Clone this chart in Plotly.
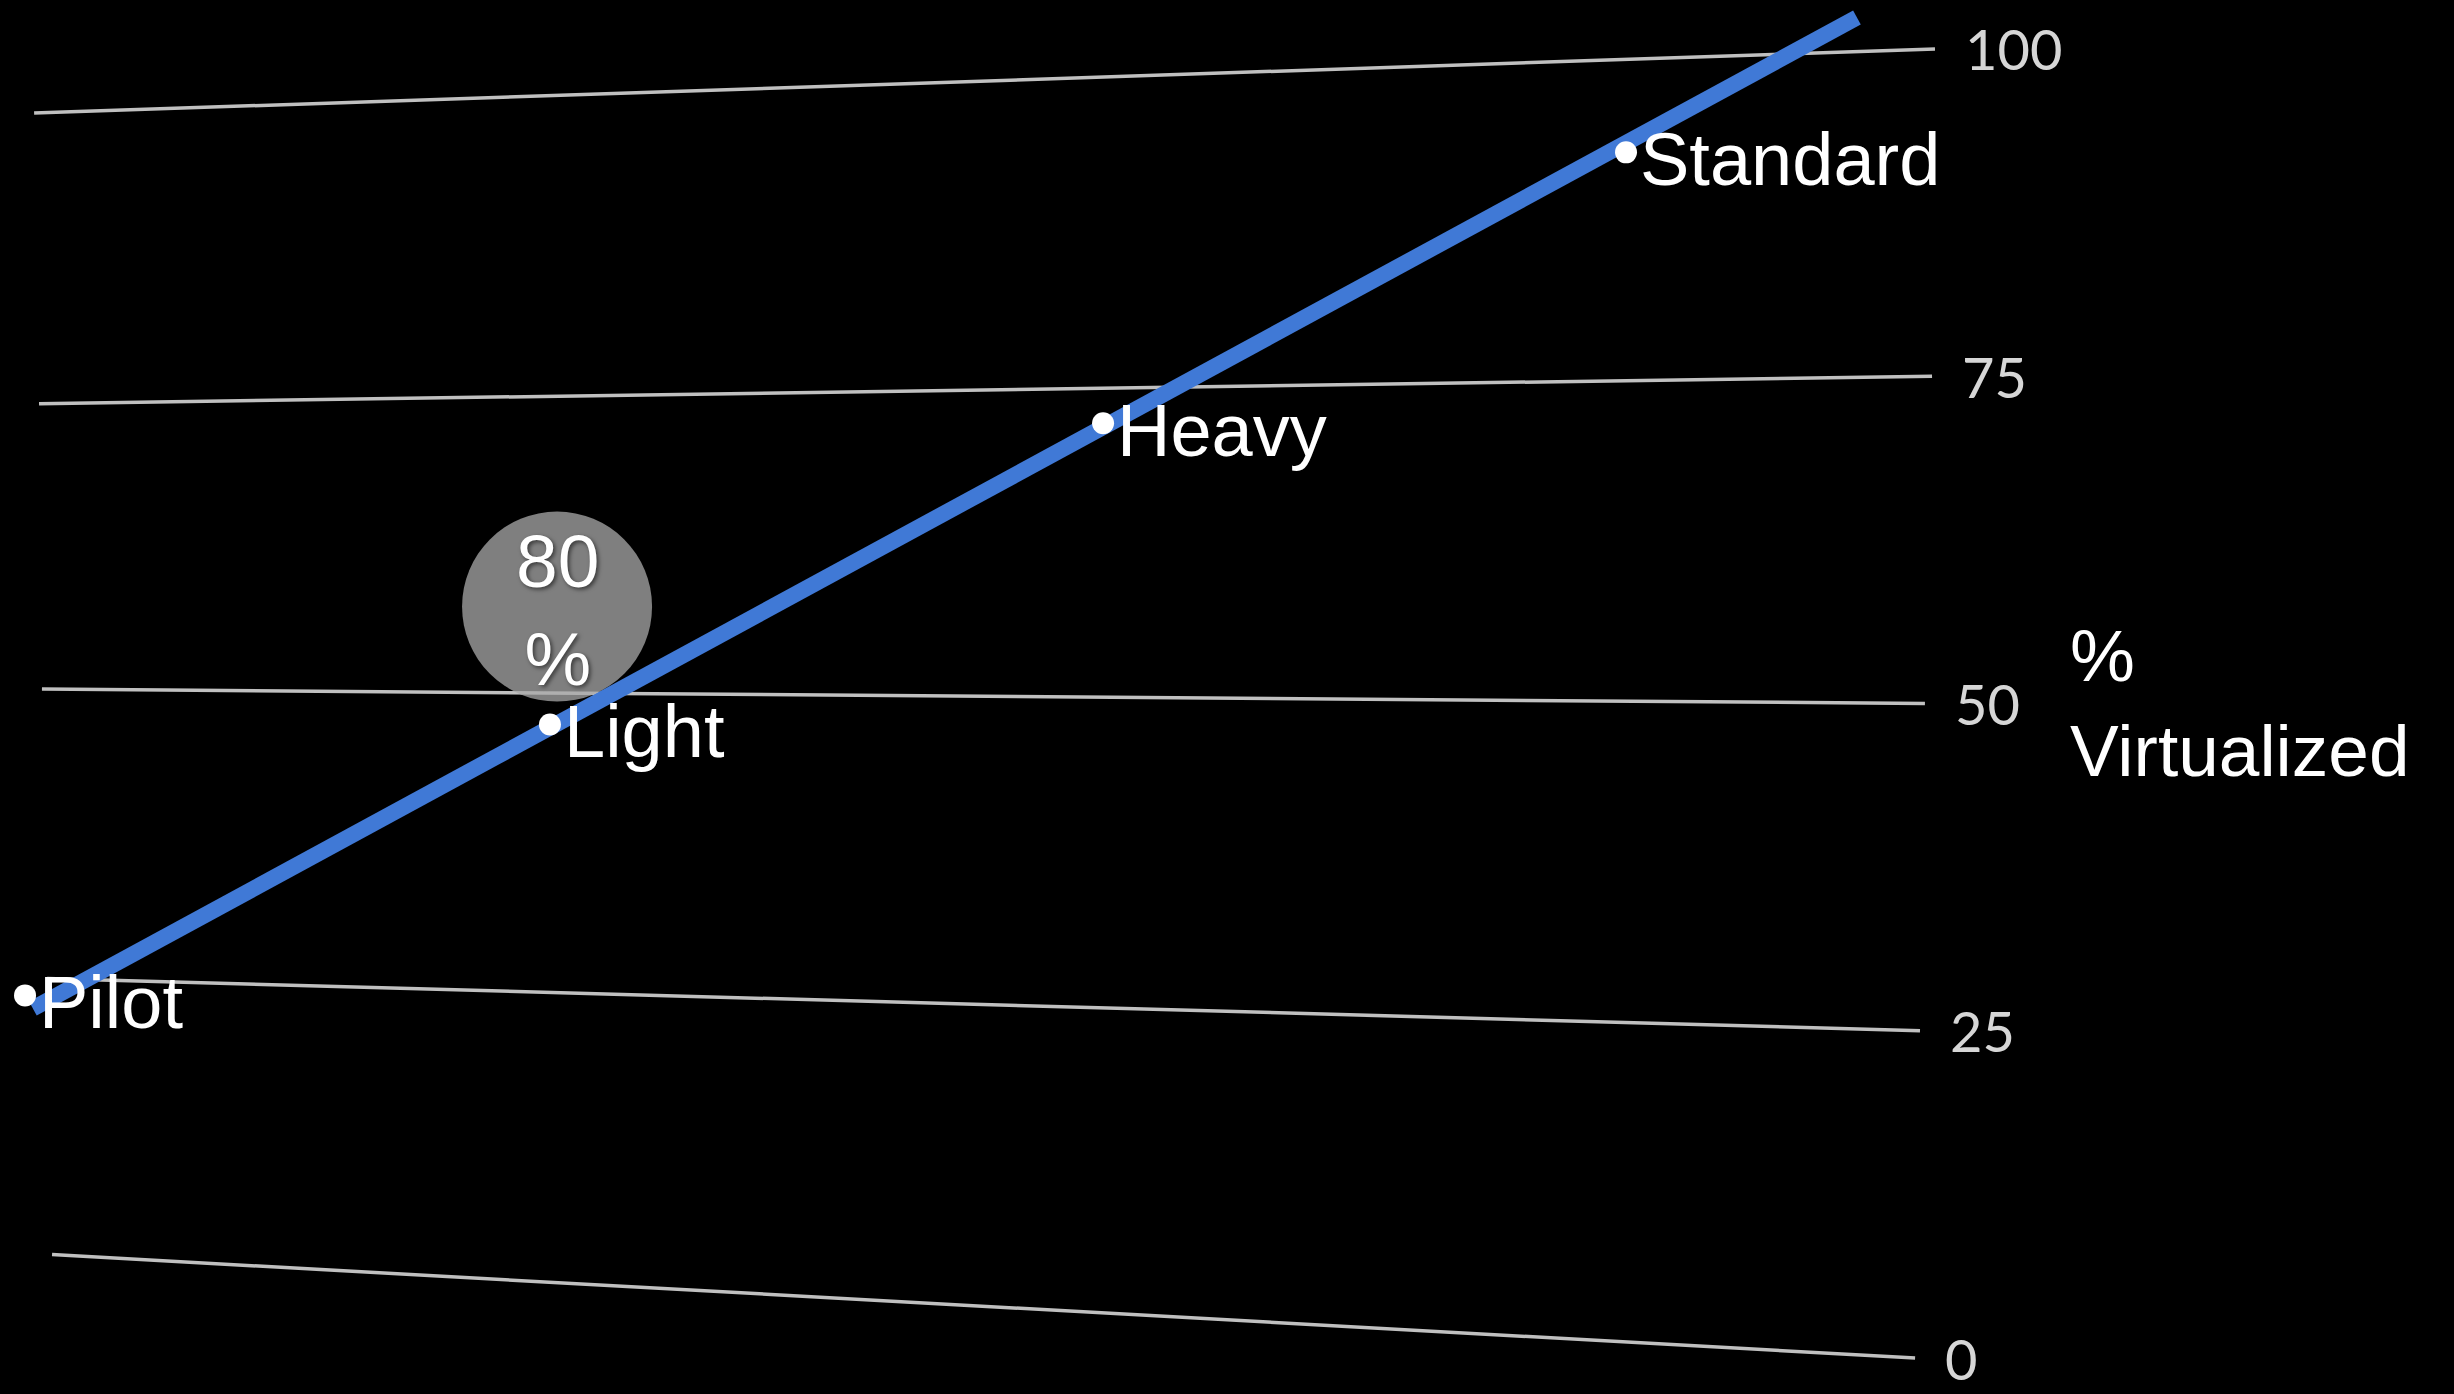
import plotly.graph_objects as go

# ---------------- data ----------------
# perspective gridlines (value at right end, apparent value at left end)
grid_values = [0, 25, 50, 75, 100]
grid_left_y = [7.9, 29.0, 51.1, 72.9, 95.1]
grid_left_x = [2.12, 1.92, 1.71, 1.59, 1.39]
grid_right_x = [78.04, 78.24, 78.44, 78.73, 78.85]
grid_labels = ["0", "25", "50", "75", "100"]

# adoption trend line
trend_x = [1.34, 75.67]
trend_y = [26.7, 102.4]

# stages
stages = ["Pilot", "Light", "Heavy", "Standard"]
stage_x = [1.02, 22.41, 44.95, 66.26]
stage_y = [27.7, 48.4, 71.4, 92.1]

# highlight bubble
highlight_text = "80<br>%"
highlight_x = [22.7]
highlight_y = [57.4]

axis_title = "%<br>Virtualized"
axis_title_x = 84.25
axis_title_y = 50.0

# ---------------- figure ----------------
fig = go.Figure()

for i, v in enumerate(grid_values):
    fig.add_trace(go.Scatter(
        x=[grid_left_x[i], grid_right_x[i]],
        y=[grid_left_y[i], v],
        mode="lines",
        line=dict(color="#c0c0c0", width=3.5),
        hoverinfo="skip",
        showlegend=False,
    ))
    fig.add_annotation(
        x=grid_right_x[i], y=v, text=grid_labels[i],
        xanchor="left", yanchor="middle", xshift=28, showarrow=False,
        font=dict(family="Liberation Sans Narrow, Lato, sans-serif", size=56, color="#d6d6d6"),
    )

fig.add_trace(go.Scatter(
    x=trend_x, y=trend_y, mode="lines",
    line=dict(color="#4079d6", width=16),
    hoverinfo="skip", showlegend=False,
))

fig.add_trace(go.Scatter(
    x=highlight_x, y=highlight_y, mode="markers",
    marker=dict(size=190, color="rgba(170,170,170,0.75)", line=dict(width=0)),
    hoverinfo="skip", showlegend=False,
))
fig.add_annotation(
    x=highlight_x[0], y=highlight_y[0], text=highlight_text, align="center",
    xanchor="center", yanchor="middle", yshift=-3, showarrow=False,
    font=dict(family="Arial, Liberation Sans, sans-serif", size=75, color="white",
              shadow="2px 2px 4px rgba(0,0,0,0.55)"),
)

fig.add_trace(go.Scatter(
    x=stage_x, y=stage_y, mode="markers",
    marker=dict(size=22, color="white", line=dict(width=0)),
    hoverinfo="skip", showlegend=False,
))
for sx, sy, name in zip(stage_x, stage_y, stages):
    fig.add_annotation(
        x=sx, y=sy, text=name, xanchor="left", yanchor="middle",
        xshift=12, yshift=-7, showarrow=False,
        font=dict(family="Arial, Liberation Sans, sans-serif", size=74, color="white"),
    )

fig.add_annotation(
    x=axis_title_x, y=axis_title_y, text=axis_title, align="left",
    xanchor="left", yanchor="middle", showarrow=False,
    font=dict(family="Arial, Liberation Sans, sans-serif", size=73, color="white"),
)

fig.update_layout(
    width=2454, height=1394,
    margin=dict(l=0, r=0, t=0, b=0),
    paper_bgcolor="black", plot_bgcolor="black",
    xaxis=dict(range=[0, 100], visible=False, fixedrange=True),
    yaxis=dict(range=[-2.75, 103.74], visible=False, fixedrange=True),
    showlegend=False,
)

fig.write_html(
    "out.html",
    config={"displayModeBar": False},
    post_script="document.body.style.margin='0';document.body.style.background='black';"
                "document.body.style.overflow='hidden';",
)
